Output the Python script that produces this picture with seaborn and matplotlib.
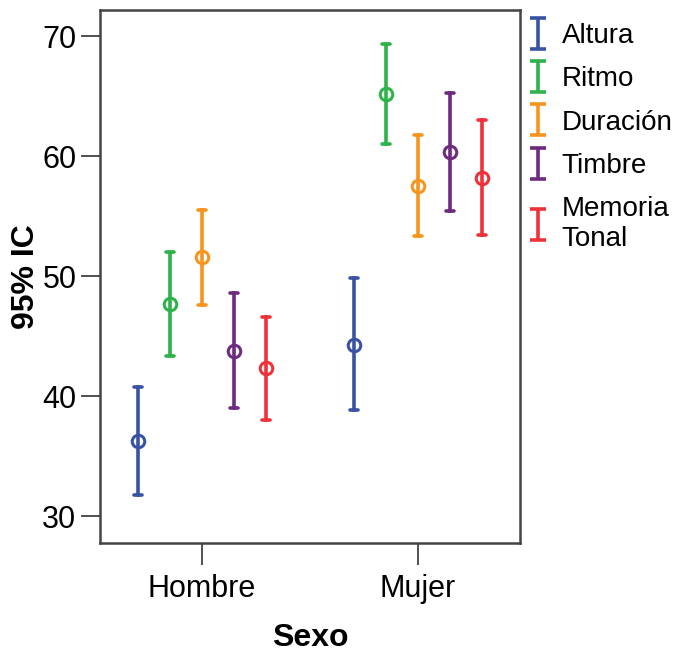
import numpy as np
import pandas as pd
import seaborn as sns
import matplotlib
matplotlib.use("Agg")
import matplotlib.pyplot as plt
from matplotlib.legend_handler import HandlerErrorbar
from matplotlib import font_manager as fm

sexo = ["Hombre", "Mujer"]
grupos = ["Altura", "Ritmo", "Duración", "Timbre", "Memoria\nTonal"]
colores = ["#3953A4", "#2DB34A", "#F7941D", "#6E2A7E", "#EE3239"]
# media, limite inferior, limite superior (IC 95%)
media_h = [36.25, 47.7, 51.6, 43.75, 42.3]
inf_h = [31.75, 43.3, 47.6, 39.0, 38.0]
sup_h = [40.75, 52.0, 55.5, 48.6, 46.6]
media_m = [44.25, 65.2, 57.5, 60.3, 58.2]
inf_m = [38.8, 61.0, 53.3, 55.4, 53.4]
sup_m = [49.8, 69.3, 61.75, 65.25, 63.0]

rows = []
for s, med, lo, hi in [("Hombre", media_h, inf_h, sup_h), ("Mujer", media_m, inf_m, sup_m)]:
    for g, a, b, c in zip(grupos, med, lo, hi):
        for v in (b, a, c):
            rows.append({"Sexo": s, "Grupo": g, "valor": v})
df = pd.DataFrame(rows)

sns.set_style("ticks")
names = {f.name for f in fm.fontManager.ttflist}
fam = "Liberation Sans Narrow" if "Liberation Sans Narrow" in names else "Liberation Sans"
plt.rcParams["font.family"] = [fam, "DejaVu Sans"]
plt.rcParams["text.color"] = "black"
plt.rcParams["axes.labelcolor"] = "black"

fig = plt.figure(figsize=(6.77, 6.54), dpi=100)
ax = fig.add_axes([100/677, 111/654, 420/677, 533/654])

sns.pointplot(data=df, x="Sexo", y="valor", hue="Grupo", order=sexo, hue_order=grupos,
              palette=colores, estimator="median",
              errorbar=lambda x: (x.min(), x.max()),
              dodge=0.593, linestyle="none", markers="o", markersize=9,
              markeredgewidth=2.2, capsize=0.036, err_kws={"linewidth": 2.6},
              ax=ax, legend=False)
for ln in ax.lines:
    ln.set_markerfacecolor("none")

ax.set_xlim(-0.472, 1.472)
ax.set_ylim(27.75, 72.17)
ax.set_yticks([30, 40, 50, 60, 70])
ax.set_xlabel("Sexo", fontsize=23, fontweight="bold", labelpad=14)
ax.set_ylabel("95% IC", fontsize=23, fontweight="bold", labelpad=1)
ax.tick_params(axis="x", length=16, width=1.2, color="#333333", labelcolor="black",
               labelsize=22, pad=6)
ax.tick_params(axis="y", length=14, width=1.2, color="#333333", labelcolor="black",
               labelsize=22, pad=3)
for sp in ax.spines.values():
    sp.set_visible(True)
    sp.set_color("#444444")
    sp.set_linewidth(1.8)

handles = []
for g, c in zip(grupos, colores):
    h = ax.errorbar([np.nan], [np.nan], yerr=[1], fmt="none", ecolor=c, elinewidth=2.6,
                    capsize=5.5, capthick=2.6, label=g)
    handles.append(h)
fig.legend(handles=handles, labels=grupos, loc="upper left", bbox_to_anchor=(0.758, 0.99),
           frameon=False, fontsize=20, handlelength=0.6, handletextpad=0.55,
           labelspacing=0.62, borderaxespad=0.2,
           handler_map={type(handles[0]): HandlerErrorbar(yerr_size=0.56)})

fig.savefig("out.png", dpi=100)
